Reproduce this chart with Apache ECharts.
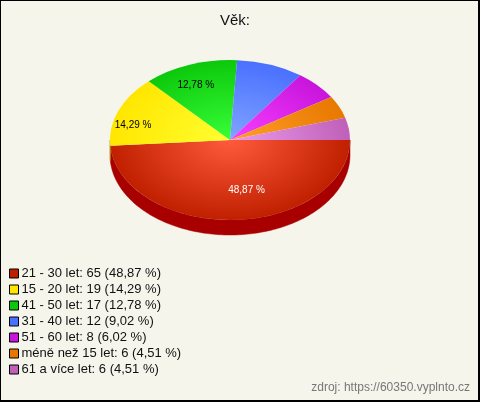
<!DOCTYPE html>
<html><head><meta charset="utf-8">
<style>html,body{margin:0;padding:0;background:#f5f5ec}#c{width:480px;height:402px;box-sizing:border-box;border:1px solid #000;border-right-width:2px;border-bottom-width:2px}</style>
<script src="https://cdn.jsdelivr.net/npm/echarts@6/dist/echarts.min.js"></script></head>
<body><div id="c"></div>
<script>
const categories=["21 - 30 let","15 - 20 let","41 - 50 let","31 - 40 let","51 - 60 let","méně než 15 let","61 a více let"];
const counts=[65,19,17,12,8,6,6];
const percents=["48,87","14,29","12,78","9,02","6,02","4,51","4,51"];
const edgeColors=["#c02000","#ffe600","#0cc80c","#4a70ff","#c814dc","#e87800","#c060b8"];
const centerColors=["#ff5a3c","#ffff30","#38ff38","#80a4ff","#f840ff","#ffa028","#ea9cec"];
const sideColors=["#a80000","#b0a000","#088008","#3050b0","#8a0e98","#a05000","#804080"];
const labelColors=["#fff","#000","#000",null,null,null,null];

const W=478;
const chart=echarts.init(document.getElementById('c'),null,{renderer:'canvas',width:477,height:399});
const total=counts.reduce((a,b)=>a+b,0);
const cx=229,cy=139,rx=120,ry=80,depth=15;
const labelNudge=[[14,2],[-30,3],[-10,-10]];
let acc=0;
const slices=counts.map(v=>{const s=acc/total*Math.PI*2;acc+=v;return [s,acc/total*Math.PI*2];});

function renderSlice(i){
  return function(params,api){
    const [a0,a1]=slices[i];
    const kids=[];
    const lo=a0, hi=Math.min(a1,Math.PI);
    if(lo<Math.PI){
      const pts=[];
      for(let t=lo;t<hi;t+=0.02)pts.push([cx+rx*Math.cos(t),cy+ry*Math.sin(t)]);
      pts.push([cx+rx*Math.cos(hi),cy+ry*Math.sin(hi)]);
      const back=pts.slice().reverse().map(p=>[p[0],p[1]+depth]);
      kids.push({type:'polygon',shape:{points:pts.concat(back)},style:{fill:sideColors[i],stroke:sideColors[i],lineWidth:0.5}});
    }
    kids.push({type:'sector',
      originX:cx,originY:cy,scaleY:ry/rx,
      shape:{cx:cx,cy:cy,r0:0,r:rx,startAngle:a0,endAngle:a1,clockwise:true},
      style:{fill:new echarts.graphic.RadialGradient(cx,cy,rx,[{offset:0,color:centerColors[i]},{offset:1,color:edgeColors[i]}],true)}});
    if(labelColors[i]){
      const m=(a0+a1)/2,n=labelNudge[i];
      kids.push({type:'text',z2:10,style:{
        x:cx+rx*0.6*Math.cos(m)+n[0],y:cy+ry*0.6*Math.sin(m)+n[1],
        text:percents[i]+' %',fill:labelColors[i],align:'center',verticalAlign:'middle',
        font:'10px "Liberation Sans",Arial,sans-serif'}});
    }
    return {type:'group',children:kids};
  };
}
const names=categories.map((c,i)=>c+': '+counts[i]+' ('+percents[i]+' %)');
const series=names.map((n,i)=>({
  type:'custom',name:n,coordinateSystem:'none',silent:true,animation:false,z:i<1?2:3,
  itemStyle:{color:edgeColors[i]},
  data:[[counts[i]]],renderItem:renderSlice(i)
}));
chart.setOption({
  animation:false,
  backgroundColor:'#f5f5ec',
  title:[
    {text:'Věk:',left:219,top:12,textStyle:{fontFamily:'Liberation Sans',fontWeight:'normal',fontSize:15,color:'#111'},padding:0},
    {text:'zdroj: https://60350.vyplnto.cz',right:8,top:381,textStyle:{fontFamily:'Liberation Sans',fontWeight:'normal',fontSize:12,color:'#777'},padding:0}
  ],
  legend:{orient:'vertical',left:8,top:266,padding:0,itemGap:3,itemWidth:9,itemHeight:9,icon:'rect',selectedMode:false,
    itemStyle:{borderColor:'#000',borderWidth:1},
    textStyle:{fontFamily:'Liberation Sans',fontSize:13,color:'#111',padding:[0,0,0,-2],lineHeight:13},
    data:names},
  series
});
</script></body></html>
